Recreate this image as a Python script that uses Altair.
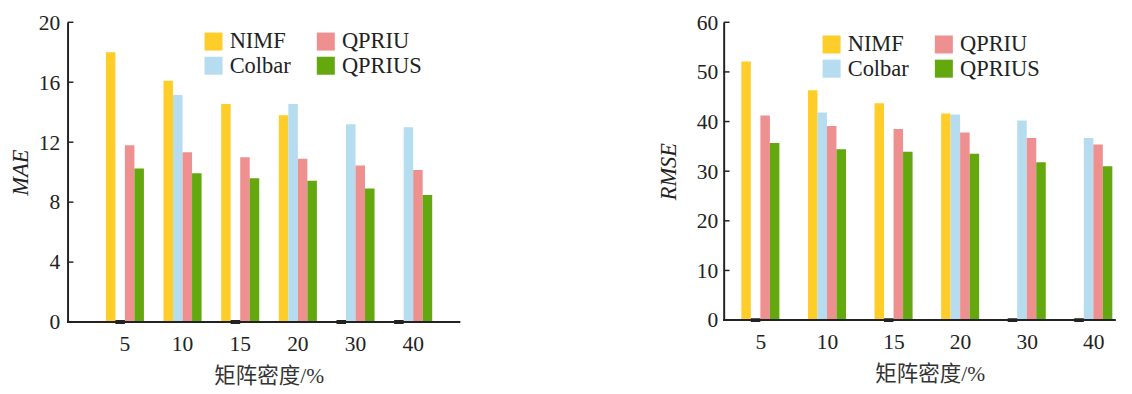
import altair as alt
import pandas as pd

densities = ["5", "10", "15", "20", "30", "40"]
methods_bar_order = ["NIMF", "Colbar", "QPRIU", "QPRIUS"]
legend_order = ["NIMF", "Colbar", "QPRIU", "QPRIUS"]
colors = ["#FFCD2A", "#B5DDEF", "#EE9090", "#62A80E"]

mae_nimf = [18.0, 16.1, 14.55, 13.8, 0, 0]
mae_colbar = [0, 15.15, 0, 14.55, 13.2, 13.0]
mae_qpriu = [11.8, 11.33, 11.0, 10.9, 10.45, 10.15]
mae_qprius = [10.25, 9.92, 9.6, 9.43, 8.91, 8.48]

rmse_nimf = [52.1, 46.3, 43.7, 41.6, 0, 0]
rmse_colbar = [0, 41.8, 0, 41.4, 40.2, 36.7]
rmse_qpriu = [41.2, 39.1, 38.5, 37.8, 36.7, 35.4]
rmse_qprius = [35.7, 34.4, 33.9, 33.5, 31.8, 31.0]

mae_ticks = [0, 4, 8, 12, 16, 20]
rmse_ticks = [0, 10, 20, 30, 40, 50, 60]

LAT = "'Liberation Serif', 'Times New Roman', serif"
CJK = "'Liberation Serif', 'Noto Sans CJK SC', serif"
AX = "#222222"


def make_df(series):
    rows = []
    for name, vals in zip(methods_bar_order, series):
        for d, v in zip(densities, vals):
            rows.append({"density": d, "method": name, "value": v})
    return pd.DataFrame(rows)


def panel(series, ticks, ytitle, W, H, xrange, pin, pout, legx, legy, labpad, titlepad,
          xtitle_x):
    df = make_df(series)
    ymax = ticks[-1]
    x = alt.X("density:N", sort=densities,
              scale=alt.Scale(domain=densities, range=xrange, paddingInner=pin, paddingOuter=pout),
              axis=alt.Axis(title="矩阵密度/%", domain=False, ticks=False, labelAngle=0,
                            labelFont=LAT, labelFontSize=22, labelColor=AX, labelPadding=12,
                            titleFont=CJK, titleFontSize=22, titleFontWeight="normal",
                            titleColor="#333333", titlePadding=12, titleX=xtitle_x))
    y = alt.Y("value:Q", scale=alt.Scale(domain=[0, ymax], nice=False),
              axis=alt.Axis(title=ytitle, values=ticks, grid=False, tickSize=0,
                            domainColor=AX, domainWidth=2, labelFont=LAT, labelFontSize=22,
                            labelColor=AX, labelPadding=labpad, titleFont=LAT,
                            titleFontSize=23, titleFontStyle="italic", titleFontWeight="normal",
                            titleColor=AX, titlePadding=titlepad))
    color = alt.Color("method:N",
                      scale=alt.Scale(domain=legend_order, range=colors),
                      legend=alt.Legend(title=None, orient="none", legendX=legx, legendY=legy,
                                        columns=2, symbolType="square", symbolSize=340,
                                        symbolStrokeWidth=0, labelFont=LAT, labelFontSize=23,
                                        labelColor=AX, labelOffset=5, columnPadding=24,
                                        rowPadding=1))
    xoff = alt.XOffset("method:N", sort=methods_bar_order,
                       scale=alt.Scale(domain=methods_bar_order, paddingInner=0, paddingOuter=0))
    base = alt.Chart(df)
    bars = base.mark_bar().encode(x=x, xOffset=xoff, y=y, color=color)
    tick_df = pd.DataFrame({"t": ticks})
    tks = alt.Chart(tick_df).mark_rule(color=AX, strokeWidth=1.5).encode(
        y=alt.Y("t:Q", scale=alt.Scale(domain=[0, ymax], nice=False)),
        x=alt.value(0), x2=alt.value(6))
    baseline = alt.Chart(tick_df).mark_rule(color=AX, strokeWidth=2).encode(
        x=alt.value(0), x2=alt.value(W), y=alt.value(H))
    stubs = base.transform_filter(alt.datum.value == 0).mark_bar(
        stroke=AX, strokeWidth=4, fill=AX).encode(x=x, xOffset=xoff, y=y)
    return alt.layer(bars, tks, baseline, stubs).properties(width=W, height=H)


left = panel([mae_nimf, mae_colbar, mae_qpriu, mae_qprius], mae_ticks, "MAE",
             402, 307, [29.2, 383.5], 0.34, 0.17, 138, 8, 8, 6, 206)
right = panel([rmse_nimf, rmse_colbar, rmse_qpriu, rmse_qprius], rmse_ticks, "RMSE",
              401, 305, [3.9, 413.1], 0.416, 0.208, 99, 11, 6, 16, 211)

chart = alt.hconcat(left, right, spacing=202).resolve_scale(
    color="independent"
).resolve_legend(color="independent").properties(
    padding={"left": 2, "top": -1, "right": 0, "bottom": 0}
).configure_view(stroke=None)

chart.save("out.html", embed_options={"renderer": "svg", "actions": False})
